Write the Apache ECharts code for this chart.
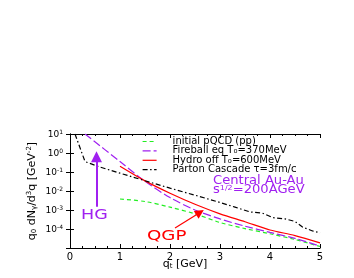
<!DOCTYPE html>
<html><head><meta charset="utf-8">
<script src="https://cdn.jsdelivr.net/npm/echarts@6/dist/echarts.min.js"></script>
<style>html,body{margin:0;padding:0;background:#fff}#c{width:354px;height:278px}</style>
</head><body><div id="c"></div>
<script>
const seriesNames = ['initial pQCD (pp)', 'Fireball eq T₀=370MeV', 'Hydro off T₀=600MeV', 'Parton Cascade τ=3fm/c'];
const pqcdX = [1.0, 1.5, 2.0, 2.5, 3.0, 3.5, 4.0, 4.5, 5.0];
const pqcdY = [3.8e-3, 2.8e-3, 1.41e-3, 6.3e-4, 2.2e-4, 1.05e-4, 5.6e-5, 2.8e-5, 1.2e-5];
const fireballX = [0.3, 1.0, 1.5, 2.0, 2.5, 3.0, 3.5, 4.0, 4.5, 5.0];
const fireballY = [10, 0.355, 0.0324, 4.5e-3, 1.0e-3, 3.4e-4, 1.41e-4, 6.6e-5, 3.2e-5, 1.26e-5];
const hydroX = [1.0, 1.5, 2.0, 2.5, 3.0, 3.5, 4.0, 4.5, 5.0];
const hydroY = [0.2, 0.034, 7.6e-3, 2.0e-3, 6.3e-4, 2.4e-4, 8.9e-5, 4.5e-5, 1.86e-5];
const cascadeX = [0.1, 0.3, 0.6, 1.0, 1.5, 2.0, 2.5, 3.0, 3.3, 3.6, 3.85, 4.05, 4.3, 4.5, 4.65, 4.85, 5.0];
const cascadeY = [10, 0.355, 0.182, 0.087, 0.0347, 0.0141, 6.0e-3, 2.5e-3, 1.41e-3, 7.9e-4, 6.8e-4, 4.0e-4, 3.4e-4, 2.5e-4, 1.26e-4, 7.9e-5, 6.3e-5];
const xTickLabels = [0, 1, 2, 3, 4, 5];
const yTickExponents = [-5, -4, -3, -2, -1, 0, 1];
const hgArrow = [[0.53, 1.48e-3], [0.53, 0.63]];
const qgpArrow = [[2.1, 1.12e-4], [2.6, 7.4e-4]];

const FF = 'DejaVu Sans';
const PURPLE = '#a020f0', RED = '#ff0000', GREEN = '#22ee22', BLACK = '#000000';
const zip = (xs, ys) => xs.map((x, i) => [x, ys[i]]);

const chart = echarts.init(document.getElementById('c'), null, {renderer: 'canvas'});
const xMin = xTickLabels[0], xMax = xTickLabels[xTickLabels.length - 1];
const yMin = Math.pow(10, yTickExponents[0]), yMax = Math.pow(10, yTickExponents[yTickExponents.length - 1]);

const yFmt = v => {
  const e = Math.round(Math.log10(v));
  return '{b|10}{s|' + e + '}';
};

chart.setOption({
  animation: false,
  backgroundColor: '#fff',
  textStyle: {fontFamily: FF},
  grid: {left: 70, right: 34, top: 134, bottom: 30},
  legend: {
    orient: 'vertical', left: 142, top: 136.5, padding: 0,
    itemWidth: 14, itemHeight: 9, itemGap: -0.6,
    data: seriesNames,
    itemStyle: {opacity: 0},
    lineStyle: {width: 1.2},
    textStyle: {fontFamily: FF, fontSize: 10, lineHeight: 9, color: '#000', padding: [0, 0, 0, 11]}
  },
  xAxis: [{
    type: 'value', min: xMin, max: xMax, interval: 1,
    name: '{b|q}{sub|t}{b| [GeV]}', nameLocation: 'middle', nameGap: 10, nameMoveOverlap: false,
    nameTextStyle: {padding: [0, 20, 0, 0], rich: {
      b: {fontFamily: FF, fontSize: 11, lineHeight: 12, color: '#000', verticalAlign: 'middle'},
      sub: {fontFamily: FF, fontSize: 7, lineHeight: 7, verticalAlign: 'bottom', padding: [7, 0, 0, 0], color: '#000'}
    }},
    axisLine: {lineStyle: {color: '#000', width: 1}},
    axisTick: {inside: true, length: 4, lineStyle: {color: '#000'}},
    minorTick: {show: true, splitNumber: 4, length: 2, lineStyle: {color: '#000'}},
    splitLine: {show: false},
    axisLabel: {color: '#000', fontFamily: FF, fontSize: 10, margin: 4,
      formatter: v => String(v)}
  }, {
    type: 'value', min: xMin, max: xMax, interval: 1, position: 'top',
    axisLine: {lineStyle: {color: '#000', width: 1}},
    axisTick: {inside: true, length: 4, lineStyle: {color: '#000'}},
    minorTick: {show: true, splitNumber: 4, length: 2, lineStyle: {color: '#000'}},
    splitLine: {show: false}, axisLabel: {show: false}
  }],
  yAxis: [{
    type: 'log', logBase: 10, min: yMin, max: yMax, interval: 1,
    name: '{b|q}{sub|0}{b| dN}{sub|γ}{b|/d}{sup|3}{b|q [GeV}{sup|-2}{b|]}',
    nameLocation: 'middle', nameRotate: 90, nameGap: 32, nameMoveOverlap: false,
    nameTextStyle: {rich: {
      b: {fontFamily: FF, fontSize: 11, lineHeight: 12, color: '#000', verticalAlign: 'middle'},
      sub: {fontFamily: FF, fontSize: 7, lineHeight: 7, verticalAlign: 'bottom', padding: [8, 0, 0, 0], color: '#000'},
      sup: {fontFamily: FF, fontSize: 7, lineHeight: 7, verticalAlign: 'top', padding: [0, 0, 8, 0], color: '#000'}
    }},
    axisLine: {show: true, lineStyle: {color: '#000', width: 1}},
    axisTick: {show: true, inside: true, length: 4, lineStyle: {color: '#000'}},
    splitLine: {show: false},
    axisLabel: {showMinLabel: false, margin: 7, formatter: yFmt, rich: {
      b: {fontFamily: FF, fontSize: 9, lineHeight: 10, color: '#000', verticalAlign: 'bottom'},
      s: {fontFamily: FF, fontSize: 6, lineHeight: 6, verticalAlign: 'top', padding: [0, 0, 6, 0], color: '#000'}
    }}
  }, {
    type: 'log', logBase: 10, min: yMin, max: yMax, interval: 1, position: 'right',
    axisLine: {show: true, lineStyle: {color: '#000', width: 1}},
    axisTick: {show: true, inside: true, length: 4, lineStyle: {color: '#000'}},
    splitLine: {show: false}, axisLabel: {show: false}
  }],
  series: [{
    name: seriesNames[0], type: 'line', symbol: 'none', smooth: 0.3,
    data: zip(pqcdX, pqcdY),
    lineStyle: {color: GREEN, width: 1.2, type: [4, 3]}, itemStyle: {color: GREEN}
  }, {
    name: seriesNames[1], type: 'line', symbol: 'none', smooth: 0.3,
    data: zip(fireballX, fireballY),
    lineStyle: {color: PURPLE, width: 1.2, type: [8, 3]}, itemStyle: {color: PURPLE},
    markLine: {silent: true, symbol: ['none', 'triangle'], symbolSize: 11,
      label: {show: false}, lineStyle: {color: PURPLE, width: 2, type: 'solid'},
      emphasis: {disabled: true},
      data: [[{coord: hgArrow[0]}, {coord: hgArrow[1]}]]}
  }, {
    name: seriesNames[2], type: 'line', symbol: 'none', smooth: 0.3,
    data: zip(hydroX, hydroY),
    lineStyle: {color: RED, width: 1.2, type: 'solid'}, itemStyle: {color: RED},
    markLine: {silent: true, symbol: ['none', 'triangle'], symbolSize: 9,
      label: {show: false}, lineStyle: {color: RED, width: 1.2, type: 'solid'},
      emphasis: {disabled: true},
      data: [[{coord: qgpArrow[0]}, {coord: qgpArrow[1]}]]}
  }, {
    name: seriesNames[3], type: 'line', symbol: 'none',
    data: zip(cascadeX, cascadeY),
    lineStyle: {color: BLACK, width: 1.2, type: [5, 2.5, 1.5, 2.5]}, itemStyle: {color: BLACK}
  }],
  graphic: [
    {type: 'text', x: 81, y: 208, scaleX: 1.25, style: {text: 'HG', fill: PURPLE, font: '14px "DejaVu Sans"', textVerticalAlign: 'top'}},
    {type: 'text', x: 147, y: 229.5, scaleX: 1.3, style: {text: 'QGP', fill: RED, font: '14px "DejaVu Sans"', textVerticalAlign: 'top'}},
    {type: 'text', x: 213, y: 175, scaleX: 1.14, style: {text: 'Central Au-Au', fill: PURPLE, font: '11.5px "DejaVu Sans"', textVerticalAlign: 'top'}},
    {type: 'text', x: 213, y: 184.5, scaleX: 1.14, style: {
      text: '{b|s}{s|1/2}{b|=200AGeV}', fill: PURPLE, textVerticalAlign: 'top',
      rich: {
        b: {fontFamily: FF, fontSize: 11.5, lineHeight: 12, fill: PURPLE, verticalAlign: 'bottom'},
        s: {fontFamily: FF, fontSize: 7, lineHeight: 7, fill: PURPLE, verticalAlign: 'top', padding: [0, 0, 6, 0]}
      }}}
  ]
});
</script></body></html>
